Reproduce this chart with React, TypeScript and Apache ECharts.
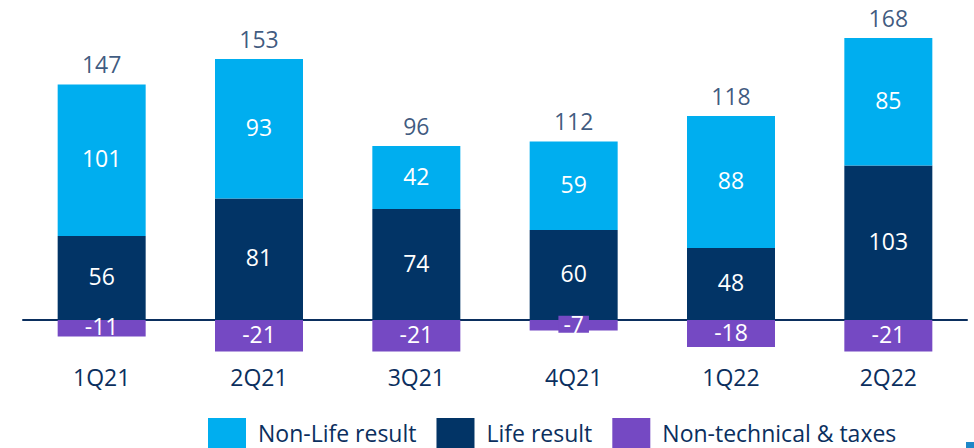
import React, { useEffect, useRef } from "react";
import * as echarts from "echarts";

const categories = ["1Q21", "2Q21", "3Q21", "4Q21", "1Q22", "2Q22"];
const nonLife = [101, 93, 42, 59, 88, 85];
const life = [56, 81, 74, 60, 48, 103];
const nonTech = [-11, -21, -21, -7, -18, -21];
const totals = [147, 153, 96, 112, 118, 168];

const NAVY_TEXT = "#0B2F5E";
const C_NONLIFE = "#00AEEF";
const C_LIFE = "#023466";
const C_NONTECH = "#7549C3";
const FONT = "Open Sans";

export default function App() {
  const ref = useRef<HTMLDivElement>(null);
  useEffect(() => {
    if (!ref.current) return;
    const chart = echarts.init(ref.current, undefined, { renderer: "svg" });
    const stackTop = categories.map((_, i) => life[i] + nonLife[i]);
    const innerLabel = {
      show: true,
      position: "inside",
      color: "#ffffff",
      fontFamily: FONT,
      fontSize: 23,
      lineHeight: 23,
      offset: [0, -2],
    };
    chart.setOption({
      animation: false,
      grid: { left: 23, width: 944, top: 20, height: 336 },
      legend: {
        data: ["Non-Life result", "Life result", "Non-technical & taxes"],
        left: 208,
        top: 418,
        padding: 0,
        itemWidth: 38,
        itemHeight: 30,
        itemGap: 20,
        icon: "rect",
        textStyle: {
          color: NAVY_TEXT,
          fontFamily: FONT,
          fontSize: 23,
          lineHeight: 23,
          padding: [0, 0, 0, 7],
        },
      },
      xAxis: {
        type: "category",
        data: categories,
        axisLine: { onZero: true, lineStyle: { color: NAVY_TEXT, width: 2 } },
        axisTick: { show: false },
        axisLabel: { color: NAVY_TEXT, fontFamily: FONT, fontSize: 23, lineHeight: 23, margin: 9 },
      },
      yAxis: {
        type: "value",
        min: -24,
        max: 200,
        show: false,
        splitLine: { show: false },
      },
      series: [
        {
          name: "Life result",
          type: "bar",
          stack: "s",
          barWidth: 88,
          itemStyle: { color: C_LIFE },
          label: innerLabel,
          data: life,
        },
        {
          name: "Non-Life result",
          type: "bar",
          stack: "s",
          barWidth: 88,
          itemStyle: { color: C_NONLIFE },
          label: innerLabel,
          data: nonLife,
        },
        {
          name: "Non-technical & taxes",
          type: "bar",
          stack: "s",
          barWidth: 88,
          itemStyle: { color: C_NONTECH },
          label: innerLabel,
          data: nonTech.map((v) =>
            v > -10
              ? {
                  value: v,
                  label: {
                    ...innerLabel,
                    offset: [0, -1],
                    backgroundColor: C_NONTECH,
                    lineHeight: 17,
                    padding: [0, 5],
                  },
                }
              : v
          ),
        },
        {
          name: "Total",
          type: "scatter",
          symbolSize: 0,
          silent: true,
          label: {
            show: true,
            position: "top",
            distance: 9,
            color: NAVY_TEXT,
            fontFamily: FONT,
            fontSize: 23,
            lineHeight: 23,
            formatter: (p: any) => String(totals[p.dataIndex]),
          },
          data: stackTop,
        },
      ],
      graphic: [
        { type: "rect", shape: { x: 966, y: 442, width: 8, height: 6 }, style: { fill: "#1E88C8" } },
      ],
    });
    return () => chart.dispose();
  }, []);
  return (
    <div
      ref={ref}
      style={{ position: "fixed", left: 0, top: 0, width: 974, height: 448, background: "#fff" }}
    />
  );
}
